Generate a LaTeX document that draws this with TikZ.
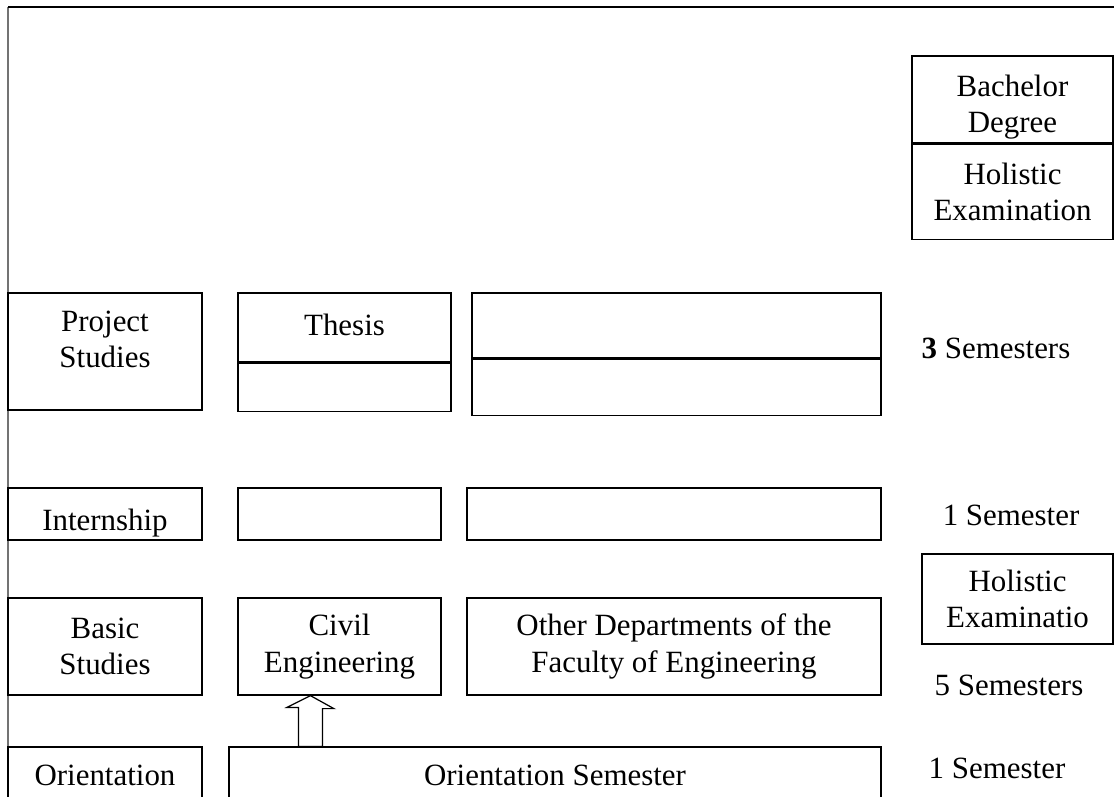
\documentclass[tikz,border=0pt]{standalone}
\usepackage{fontspec}
\setmainfont{Liberation Serif}
\usetikzlibrary{positioning, calc}

\tikzset{
  cell/.style={rectangle, draw, line width=0.7pt, inner sep=0pt, align=center,
               font=\fontsize{17.6}{20.6}\selectfont},
  txt/.style={inner sep=0pt, align=center, font=\fontsize{17.6}{20.6}\selectfont}
}

\begin{document}
\begin{tikzpicture}[x=0.02cm, y=-0.02cm]
    \useasboundingbox (0,0) rectangle (1114,796);

    % Frame
    \coordinate (ftl) at (8,7);
    \draw[line width=0.7pt, black!55] (ftl) -- (8,796);
    \draw[line width=0.7pt] (ftl) -- (1114,7);

    % Degree
    \node[cell, minimum width=4.02cm, minimum height=1.74cm] (bach) at (1012.5,99.5) {\rule{0pt}{0.74cm}Bachelor\\Degree};
    \node[cell, minimum width=4.02cm, minimum height=1.9cm, below=0pt of bach] (holtop) {Holistic\\Examination};

    % Project row
    \node[cell, minimum width=3.88cm, minimum height=2.34cm] (proj) at (105,351.5) {};
    \node[txt, below=0.36cm of proj.north] (projtxt) {Project\\Studies};
    \node[cell, minimum width=4.26cm, minimum height=1.38cm, text depth=0.12cm] (thesis) at (344.5,327.5) {Thesis};
    \node[cell, minimum width=4.26cm, minimum height=0.96cm, below=0pt of thesis] (thesislow) {};
    \node[cell, minimum width=8.18cm, minimum height=1.3cm] (projother) at (676.5,325.5) {};
    \node[cell, minimum width=8.18cm, minimum height=1.12cm, below=0pt of projother] (projotherlow) {};
    \node[txt] (sem3) at (996,348) {\textbf{3} Semesters};

    % Internship row
    \node[cell, minimum width=3.88cm, minimum height=1.04cm, text height=0.78cm] (intern) at (105,514) {Internship};
    \node[cell, minimum width=4.06cm, minimum height=1.04cm] (interncivil) at (339.5,514) {};
    \node[cell, minimum width=8.28cm, minimum height=1.04cm] (internother) at (674,514) {};
    \node[txt] (sem1) at (1011,515) {1 Semester};

    % Basic row
    \node[cell, minimum width=3.82cm, minimum height=1.8cm] (holbot) at (1017.5,599) {Holistic\\Examinatio};
    \node[cell, minimum width=3.88cm, minimum height=1.94cm] (basic) at (105,646.5) {Basic\\Studies};
    \node[cell, minimum width=4.06cm, minimum height=1.94cm] (civil) at (339.5,646.5) {Civil\\Engineering};
    \node[cell, minimum width=8.28cm, minimum height=1.94cm] (other) at (674,646.5) {Other Departments of the\\Faculty of Engineering};
    \node[txt] (sem5) at (1009,685) {5 Semesters};

    % Orientation row
    \node[cell, minimum width=3.88cm, minimum height=1.12cm] (orient) at (105,775) {Orientation};
    \node[cell, minimum width=13.04cm, minimum height=1.12cm] (orsem) at (555,775) {Orientation Semester};
    \node[txt] (sem1b) at (997,768) {1 Semester};

    % Block arrow
    \coordinate (tip) at ($(civil.south west)+(73,0)$);
    \draw[line width=0.7pt, fill=white] (tip) -- ++(23.5,13) -- ++(-11.5,0)
        -- ($(tip |- orsem.north)+(12,0)$) -- ($(tip |- orsem.north)+(-12,0)$)
        -- ++(0,-39) -- ++(-11.5,0) -- cycle;
\end{tikzpicture}
\end{document}
